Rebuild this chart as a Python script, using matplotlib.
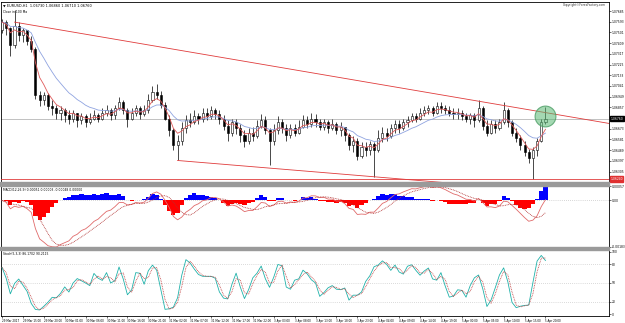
import matplotlib
matplotlib.use("Agg")
import matplotlib.pyplot as plt
import matplotlib.transforms as mtransforms
from matplotlib.patches import Rectangle
import numpy as np
import pandas as pd

# EURUSD hourly bars
symbol = "EURUSD,H1"
first_open = 1.0752
closes = [1.0759, 1.0754, 1.0739, 1.0756, 1.0748, 1.0752, 1.0743, 1.0736, 1.0696, 1.0692,
          1.0696, 1.0687, 1.0685, 1.0681, 1.0683, 1.0679, 1.0676, 1.0681, 1.0675, 1.0678,
          1.0673, 1.0676, 1.0679, 1.0676, 1.0681, 1.0683, 1.0679, 1.0685, 1.0690, 1.0683,
          1.0676, 1.0681, 1.0685, 1.0680, 1.0683, 1.0692, 1.0699, 1.0696, 1.0688, 1.0676,
          1.0666, 1.0653, 1.0657, 1.0668, 1.0675, 1.0673, 1.0678, 1.0676, 1.0681, 1.0678,
          1.0683, 1.0680, 1.0676, 1.0670, 1.0664, 1.0673, 1.0668, 1.0662, 1.0657, 1.0664,
          1.0661, 1.0670, 1.0675, 1.0666, 1.0657, 1.0666, 1.0673, 1.0668, 1.0662, 1.0668,
          1.0664, 1.0669, 1.0675, 1.0671, 1.0676, 1.0673, 1.0669, 1.0673, 1.0668, 1.0671,
          1.0666, 1.0669, 1.0662, 1.0653, 1.0657, 1.0644, 1.0652, 1.0649, 1.0654, 1.0649,
          1.0659, 1.0664, 1.0661, 1.0668, 1.0671, 1.0668, 1.0673, 1.0675, 1.0678, 1.0676,
          1.0681, 1.0683, 1.0685, 1.0681, 1.0687, 1.0685, 1.0683, 1.0681, 1.0680, 1.0681,
          1.0678, 1.0676, 1.0679, 1.0675, 1.0685, 1.0670, 1.0664, 1.0671, 1.0668, 1.0673,
          1.0683, 1.0673, 1.0664, 1.0659, 1.0653, 1.0647, 1.0642, 1.0649, 1.0657, 1.0673,
          1.0676]
highs = [1.0762, 1.0761, 1.0755, 1.0769, 1.0759, 1.0754, 1.0752, 1.0747, 1.0738, 1.0700,
         1.0699, 1.0698, 1.0692, 1.0688, 1.0687, 1.0685, 1.0683, 1.0683, 1.0681, 1.0681,
         1.0680, 1.0681, 1.0683, 1.0681, 1.0685, 1.0688, 1.0685, 1.0688, 1.0695, 1.0692,
         1.0685, 1.0685, 1.0688, 1.0687, 1.0688, 1.0697, 1.0704, 1.0706, 1.0700, 1.0690,
         1.0679, 1.0668, 1.0662, 1.0673, 1.0679, 1.0681, 1.0683, 1.0681, 1.0685, 1.0685,
         1.0687, 1.0685, 1.0683, 1.0679, 1.0675, 1.0676, 1.0676, 1.0671, 1.0666, 1.0668,
         1.0669, 1.0675, 1.0680, 1.0678, 1.0668, 1.0671, 1.0678, 1.0676, 1.0671, 1.0671,
         1.0671, 1.0675, 1.0679, 1.0678, 1.0681, 1.0680, 1.0676, 1.0676, 1.0675, 1.0676,
         1.0673, 1.0673, 1.0669, 1.0664, 1.0661, 1.0659, 1.0656, 1.0656, 1.0657, 1.0656,
         1.0666, 1.0669, 1.0668, 1.0671, 1.0675, 1.0675, 1.0676, 1.0678, 1.0681, 1.0681,
         1.0685, 1.0687, 1.0688, 1.0687, 1.0690, 1.0690, 1.0688, 1.0687, 1.0685, 1.0685,
         1.0683, 1.0681, 1.0681, 1.0681, 1.0692, 1.0687, 1.0675, 1.0675, 1.0675, 1.0676,
         1.0690, 1.0685, 1.0675, 1.0668, 1.0662, 1.0657, 1.0650, 1.0652, 1.0659, 1.0676,
         1.0686]
lows = [1.0750, 1.0748, 1.0730, 1.0737, 1.0743, 1.0742, 1.0739, 1.0733, 1.0693, 1.0687,
        1.0688, 1.0683, 1.0679, 1.0676, 1.0675, 1.0673, 1.0671, 1.0673, 1.0669, 1.0671,
        1.0669, 1.0671, 1.0675, 1.0673, 1.0675, 1.0678, 1.0675, 1.0676, 1.0683, 1.0680,
        1.0669, 1.0675, 1.0678, 1.0676, 1.0678, 1.0681, 1.0690, 1.0693, 1.0685, 1.0675,
        1.0661, 1.0649, 1.0640, 1.0653, 1.0664, 1.0669, 1.0671, 1.0671, 1.0673, 1.0675,
        1.0676, 1.0676, 1.0671, 1.0666, 1.0657, 1.0661, 1.0663, 1.0656, 1.0652, 1.0654,
        1.0657, 1.0659, 1.0668, 1.0663, 1.0636, 1.0653, 1.0663, 1.0664, 1.0657, 1.0659,
        1.0661, 1.0663, 1.0668, 1.0668, 1.0669, 1.0669, 1.0666, 1.0666, 1.0664, 1.0666,
        1.0663, 1.0661, 1.0657, 1.0649, 1.0647, 1.0640, 1.0642, 1.0644, 1.0645, 1.0626,
        1.0647, 1.0656, 1.0657, 1.0659, 1.0664, 1.0664, 1.0666, 1.0669, 1.0673, 1.0673,
        1.0675, 1.0678, 1.0680, 1.0678, 1.0680, 1.0681, 1.0680, 1.0678, 1.0676, 1.0676,
        1.0675, 1.0673, 1.0671, 1.0669, 1.0673, 1.0666, 1.0661, 1.0663, 1.0664, 1.0666,
        1.0671, 1.0669, 1.0661, 1.0656, 1.0649, 1.0644, 1.0638, 1.0624, 1.0644, 1.0656,
        1.0671]

price_ticks = [1.07685, 1.07593, 1.07501, 1.07409, 1.07317, 1.07225, 1.07133, 1.07041,
               1.06949, 1.06857, 1.06673, 1.06581, 1.06489, 1.06397, 1.06305]
# trend lines drawn on the chart (bar index, price)
upper_bars = [3, 145]
upper_prices = [1.0759, 1.0672]
lower_touch_bars = [42, 89]
stoch_levels = [80, 50, 20]

times = pd.date_range("2017-03-29 10:00", "2017-04-05 20:00", freq="h")
times = times[times.dayofweek < 5]

c = pd.Series(closes)
h = pd.Series(highs)
l = pd.Series(lows)
o = c.shift(1).fillna(first_open)
x = np.arange(len(c))

# indicators (periods halved: the source chart runs them on 30-min bars)
ma_fast = c.ewm(span=4, adjust=False).mean()
ma_slow = c.ewm(span=12, adjust=False).mean()
macd = c.ewm(span=6, adjust=False).mean() - c.ewm(span=13, adjust=False).mean()
signal = macd.rolling(5, min_periods=1).mean()
osma = macd - signal
hh = h.rolling(3, min_periods=1).max()
ll = l.rolling(3, min_periods=1).min()
k = 100 * (c - ll).rolling(2, min_periods=1).sum() / (hh - ll).rolling(2, min_periods=1).sum()
d = k.rolling(2, min_periods=1).mean()

W, H = 625, 323
fig = plt.figure(figsize=(W / 100, H / 100), dpi=100)
fig.patch.set_facecolor("white")
FS = 2.2


def box(x0, y0, x1, y1):
    return [x0 / W, 1 - y1 / H, (x1 - x0) / W, (y1 - y0) / H]


ax1 = fig.add_axes(box(1, 2, 609, 182))
ax2 = fig.add_axes(box(1, 186, 609, 247), sharex=ax1)
ax3 = fig.add_axes(box(1, 250, 609, 316), sharex=ax1)

# panel separators
for y0, y1 in [(182, 186), (247, 250)]:
    fig.patches.append(Rectangle((0, 1 - y1 / H), 609 / W, (y1 - y0) / H,
                                 transform=fig.transFigure, color="#9a9a9a", zorder=5))

for ax in (ax1, ax2, ax3):
    for s in ax.spines.values():
        s.set_color("black")
        s.set_linewidth(0.6)
    ax.tick_params(axis="y", right=True, left=False, labelright=True, labelleft=False,
                   labelsize=FS, length=1.2, width=0.4, pad=0.8)
    ax.tick_params(axis="x", labelsize=FS, length=1.2, width=0.4, pad=0.8)

# --- price panel ---
up = (c >= o).values
body_lo = np.minimum(o, c).values
body_h = np.maximum(np.abs(c - o).values, 0.00003)
ax1.vlines(x, l, h, color="black", lw=0.5, zorder=2)
ax1.bar(x[up], body_h[up], bottom=body_lo[up], width=0.5, facecolor="white",
        edgecolor="black", lw=0.4, zorder=3)
ax1.bar(x[~up], body_h[~up], bottom=body_lo[~up], width=0.5, facecolor="black",
        edgecolor="black", lw=0.4, zorder=3)
ax1.plot(x, ma_slow, color="#8fa3e0", lw=0.6, zorder=4)
ax1.plot(x, ma_fast, color="#e05a5a", lw=0.6, zorder=4)

slope = (upper_prices[1] - upper_prices[0]) / (upper_bars[1] - upper_bars[0])
ux = np.array([upper_bars[0], upper_bars[1] + 5])
ax1.plot(ux, upper_prices[0] + slope * (ux - upper_bars[0]), color="#e03c3c", lw=0.6, zorder=4)
b0, b1 = lower_touch_bars
lslope = (l[b1] - l[b0]) / (b1 - b0)
lx = np.array([b0, b1 + 40])
ax1.plot(lx, l[b0] + lslope * (lx - b0), color="#e03c3c", lw=0.6, zorder=4)

low_level = l.min()
last = c.iloc[-1]
ax1.axhline(low_level, color="#e03c3c", lw=0.6, zorder=4)
ax1.axhline(last, color="#a8a8a8", lw=0.5, zorder=1)

ax1.plot(x[-1], (h.iloc[-1] + l.iloc[-1]) / 2, "o", ms=15,
         mfc=(0.35, 0.72, 0.45, 0.55), mec=(0.3, 0.62, 0.4, 0.8), mew=0.8, zorder=6)

ax1.set_xlim(-0.24, 145.2)
ax1.set_ylim(1.06215, 1.07763)
ax1.set_yticks(price_ticks)
ax1.set_yticklabels([f"{v:.5f}" for v in price_ticks])
plt.setp(ax1.get_xticklabels(), visible=False)
ax1.tick_params(axis="x", length=0)

tr1 = mtransforms.blended_transform_factory(ax1.transAxes, ax1.transData)
ax1.text(1.002, last, f"{last:.5f}", transform=tr1, fontsize=FS, color="white", va="center",
         bbox=dict(boxstyle="square,pad=0.2", fc="black", ec="black"), zorder=7, clip_on=False)
ax1.text(1.002, low_level, f"{low_level:.5f}", transform=tr1, fontsize=FS, color="white",
         va="center", bbox=dict(boxstyle="square,pad=0.2", fc="#e03030", ec="#e03030"),
         zorder=7, clip_on=False)

ax1.text(0.003, 0.992, f"\u25bc {symbol}  {o.iloc[-1]:.5f} {h.iloc[-1]:.5f} {l.iloc[-1]:.5f} {last:.5f}",
         transform=ax1.transAxes, fontsize=2.5, va="top")
ax1.text(0.003, 0.958, "Close in 100 Ma", transform=ax1.transAxes, fontsize=FS, va="top")
ax1.text(0.995, 0.992, "Copyright\u00a9ForexFactory.com", transform=ax1.transAxes,
         fontsize=FS, va="top", ha="right", color="#333333")

# --- MACD panel ---
ax2.bar(x, osma, width=1.0, color=np.where(osma >= 0, "#0000ff", "#ff0000"), lw=0, zorder=2)
ax2.plot(x, macd, color="#e06a6a", lw=0.6, zorder=3)
ax2.plot(x, signal, color="#b03030", lw=0.6, ls=(0, (1, 1)), zorder=3)
ax2.axhline(0, color="#b0b0b0", lw=0.5, ls=(0, (1, 2)), zorder=1)
lo = min(macd.min(), signal.min(), osma.min())
hi = max(macd.max(), signal.max(), osma.max())
ax2.set_ylim(lo, hi)
ax2.set_yticks([hi, 0, lo])
ax2.set_yticklabels([f"{hi:.5f}", "0.00", f"{lo:.5f}"])
plt.setp(ax2.get_xticklabels(), visible=False)
ax2.tick_params(axis="x", length=0)
ax2.text(0.003, 0.97, f"MACD(12,26,9) {osma.iloc[-1]:.5f} {macd.iloc[-1]:.5f} {signal.iloc[-1]:.5f} 0.00000",
         transform=ax2.transAxes, fontsize=FS, va="top")

# --- Stochastic panel ---
for lev in stoch_levels:
    ax3.axhline(lev, color="#b8b8b8", lw=0.5, ls=(0, (1, 2)), zorder=1)
ax3.plot(x, k, color="#20b2aa", lw=0.6, zorder=3)
ax3.plot(x, d, color="#c04040", lw=0.6, ls=(0, (1, 1)), zorder=3)
ax3.set_ylim(-3, 103)
ax3.set_yticks([100] + stoch_levels + [0])
ax3.set_yticklabels([str(v) for v in [100] + stoch_levels + [0]])
ax3.text(0.003, 0.97, f"Stoch(5,3,3) {k.iloc[-1]:.4f} {d.iloc[-1]:.4f}",
         transform=ax3.transAxes, fontsize=FS, va="top")

tick_idx = list(range(0, len(times), 5))
tick_lab = [f"{times[0].day} {times[0].strftime('%b %Y')}"] + \
           [f"{times[i].day} {times[i].strftime('%b %H:%M')}" for i in tick_idx[1:]]
ax3.set_xticks(tick_idx)
ax3.set_xticklabels(tick_lab, ha="left", fontsize=2.0)

fig.savefig("out.png", dpi=100)
